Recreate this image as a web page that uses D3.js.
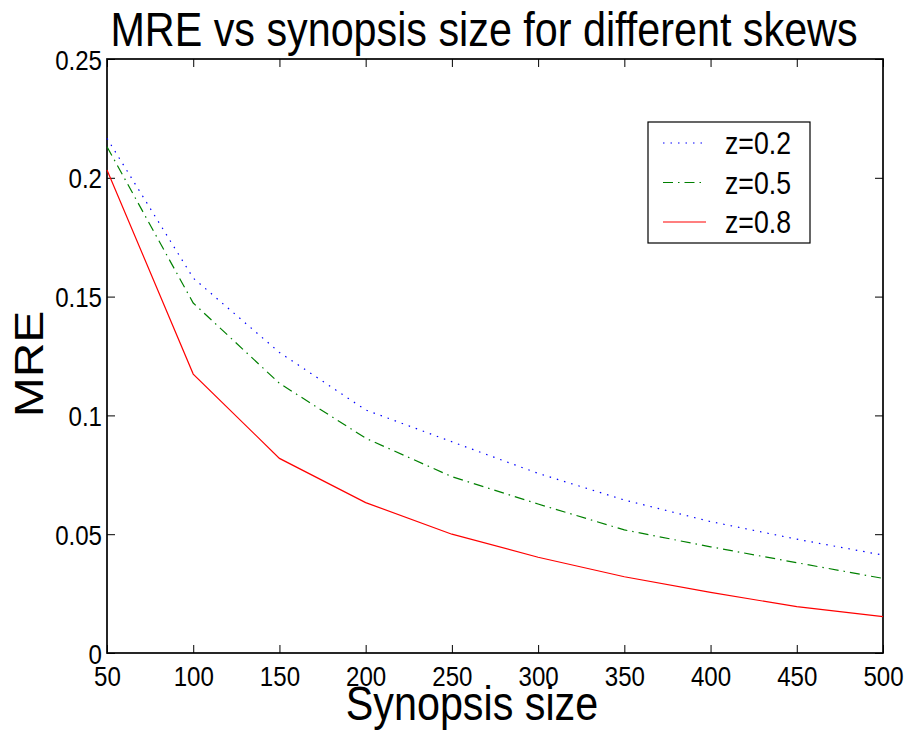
<!DOCTYPE html>
<html>
<head>
<meta charset="utf-8">
<script src="https://cdn.jsdelivr.net/npm/d3@7"></script>
<style>
  html, body { margin: 0; padding: 0; background: #fff; }
  svg { display: block; }
  text { font-family: "Liberation Sans", Arial, Helvetica, sans-serif; fill: #000; }
</style>
</head>
<body>
<svg id="chart" width="907" height="734"></svg>
<script>
// Synopsis sizes on the x axis
const sizes = [50, 100, 150, 200, 250, 300, 350, 400, 450, 500];
// Mean relative error for each skew
const mreZ02 = [0.2166, 0.1578, 0.1265, 0.1023, 0.0889, 0.0756, 0.0644, 0.0553, 0.0479, 0.0412];
const mreZ05 = [0.2131, 0.1473, 0.1135, 0.0904, 0.0742, 0.0627, 0.0518, 0.0447, 0.0380, 0.0314];
const mreZ08 = [0.2033, 0.1174, 0.0819, 0.0633, 0.0500, 0.0403, 0.0321, 0.0255, 0.0195, 0.0153];
const seriesNames = ["z=0.2", "z=0.5", "z=0.8"];
const xTicks = [50, 100, 150, 200, 250, 300, 350, 400, 450, 500];
const yTicks = [0, 0.05, 0.1, 0.15, 0.2, 0.25];

const series = [
  { name: seriesNames[0], values: mreZ02, color: "#0000ff", dash: "1.5,6" },
  { name: seriesNames[1], values: mreZ05, color: "#008000", dash: "10,5,1.5,5" },
  { name: seriesNames[2], values: mreZ08, color: "#ff0000", dash: null }
];

const svg = d3.select("#chart");
const plotL = 107, plotR = 883, plotT = 59, plotB = 653;
const SQ = 0.86; // horizontal condensing applied to the text

const x = d3.scaleLinear().domain([50, 500]).range([plotL, plotR]);
const y = d3.scaleLinear().domain([0, 0.25]).range([plotB, plotT]);

// Squeeze text horizontally to its natural width times SQ
function condense(sel) {
  sel.each(function () {
    const w = this.getComputedTextLength();
    if (w > 0) {
      this.setAttribute("textLength", w * SQ);
      this.setAttribute("lengthAdjust", "spacingAndGlyphs");
    }
  });
}

const fmtY = d => d === 0 ? "0" : String(+d.toFixed(2));

// Axes with inward ticks on all four sides
const gx = svg.append("g").attr("transform", `translate(0,${plotB})`)
  .call(d3.axisBottom(x).tickValues(xTicks).tickSizeInner(-8).tickSizeOuter(0).tickPadding(13));
const gy = svg.append("g").attr("transform", `translate(${plotL},0)`)
  .call(d3.axisLeft(y).tickValues(yTicks).tickFormat(fmtY).tickSizeInner(-8).tickSizeOuter(0).tickPadding(5));
const gt = svg.append("g").attr("transform", `translate(0,${plotT})`)
  .call(d3.axisTop(x).tickValues(xTicks).tickFormat("").tickSizeInner(-8).tickSizeOuter(0));
const gr = svg.append("g").attr("transform", `translate(${plotR},0)`)
  .call(d3.axisRight(y).tickValues(yTicks).tickFormat("").tickSizeInner(-8).tickSizeOuter(0));

[gx, gy, gt, gr].forEach(g => {
  g.select(".domain").remove();
  g.selectAll(".tick line").attr("stroke", "#000").attr("stroke-width", 1);
});
gx.selectAll(".tick text").attr("font-size", 28).attr("dy", "0.71em").call(condense);
gy.selectAll(".tick text").attr("font-size", 28).attr("dy", "0.36em").call(condense);

// Plot frame
svg.append("rect")
  .attr("x", plotL).attr("y", plotT)
  .attr("width", plotR - plotL).attr("height", plotB - plotT)
  .attr("fill", "none").attr("stroke", "#000").attr("stroke-width", 1.7);

// Lines
const line = d3.line().x((d, i) => x(sizes[i])).y(d => y(d));
svg.append("g").selectAll("path").data(series).join("path")
  .attr("d", s => line(s.values))
  .attr("fill", "none")
  .attr("stroke", s => s.color)
  .attr("stroke-width", 1.2)
  .attr("stroke-dasharray", s => s.dash);

// Legend
const lg = svg.append("g");
lg.append("rect").attr("x", 648).attr("y", 122).attr("width", 162).attr("height", 121)
  .attr("fill", "#fff").attr("stroke", "#000").attr("stroke-width", 1.2);
series.forEach((s, i) => {
  const ly = 143 + i * 39.5;
  lg.append("line").attr("x1", 663).attr("x2", 706).attr("y1", ly).attr("y2", ly)
    .attr("stroke", s.color).attr("stroke-width", 1.2).attr("stroke-dasharray", s.dash);
  lg.append("text").attr("x", 725).attr("y", ly).attr("dy", "0.36em")
    .attr("font-size", 31).text(s.name).call(condense);
});

// Title and axis labels
svg.append("text").attr("x", 484).attr("y", 46).attr("text-anchor", "middle")
  .attr("font-size", 48).text("MRE vs synopsis size for different skews").call(condense);
svg.append("text").attr("x", 472).attr("y", 720).attr("text-anchor", "middle")
  .attr("font-size", 48).text("Synopsis size").call(condense);
svg.append("text").attr("transform", `translate(43,364) scale(${SQ},1) rotate(-90)`)
  .attr("text-anchor", "middle")
  .attr("font-size", 48).text("MRE");
</script>
</body>
</html>
